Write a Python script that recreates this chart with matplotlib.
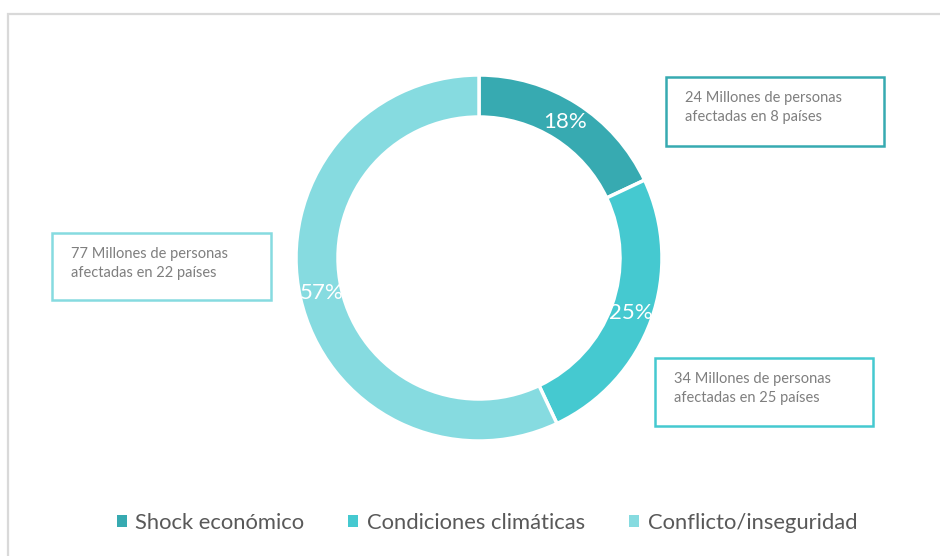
import matplotlib.pyplot as plt
from matplotlib.patches import Rectangle

plt.rcParams['font.family'] = ['Lato', 'DejaVu Sans']

# data
categorias = ["Shock económico", "Condiciones climáticas", "Conflicto/inseguridad"]
porcentajes = [18, 25, 57]
colores = ["#37AAB1", "#45C9D0", "#86DBE0"]
notas = [["24 Millones de personas", "afectadas en 8 países"],
         ["34 Millones de personas", "afectadas en 25 países"],
         ["77 Millones de personas", "afectadas en 22 países"]]

W, H = 940, 556
fig = plt.figure(figsize=(9.4, 5.56), dpi=100)
ax = fig.add_axes([0, 0, 1, 1])

# donut, centre given in pixels (y measured from bottom)
cx, cy, r = 479, H - 258, 183
wedges, _, autotexts = ax.pie(
	porcentajes, colors=colores, startangle=90, counterclock=False,
	center=(cx, cy), radius=r, autopct="%d%%", pctdistance=0.88,
	wedgeprops=dict(width=42, edgecolor="white", linewidth=2.5),
	textprops=dict(color="white", fontsize=16))

ax.set_xlim(0, W)
ax.set_ylim(0, H)
ax.set_aspect("equal")
ax.axis("off")

# annotation boxes: (x, y_top, w, h) in pixels
cajas = [(666, 77, 218, 69), (655, 358, 218, 68), (52, 233, 219, 67)]
for (x, y, w, h), nota, col in zip(cajas, notas, colores):
	ax.add_patch(Rectangle((x, H - y - h), w, h, facecolor="white",
		edgecolor=col, linewidth=1.8, zorder=3))
	for i, linea in enumerate(nota):
		ax.text(x + 19, H - y - 21 - 19 * i, linea, fontsize=10.5, color="#7F7F7F",
			va="center", ha="left", zorder=4)

# outer frame (top and left edges only visible)
ax.plot([8, 8, W], [0, H - 14, H - 14], color="#D9D9D9", lw=1.6,
	solid_joinstyle="miter", clip_on=False)

leg = ax.legend(wedges, categorias, loc="center",
	bbox_to_anchor=(487 / W, 1 - 523 / H),
	ncol=3, frameon=False, fontsize=15.8, handlelength=0.45, handleheight=0.45,
	handletextpad=0.4, columnspacing=2.0)
for t in leg.get_texts():
	t.set_color("#595959")
for hnd in leg.legend_handles:
	hnd.set_edgecolor("none")

fig.savefig("out.png", dpi=100)
